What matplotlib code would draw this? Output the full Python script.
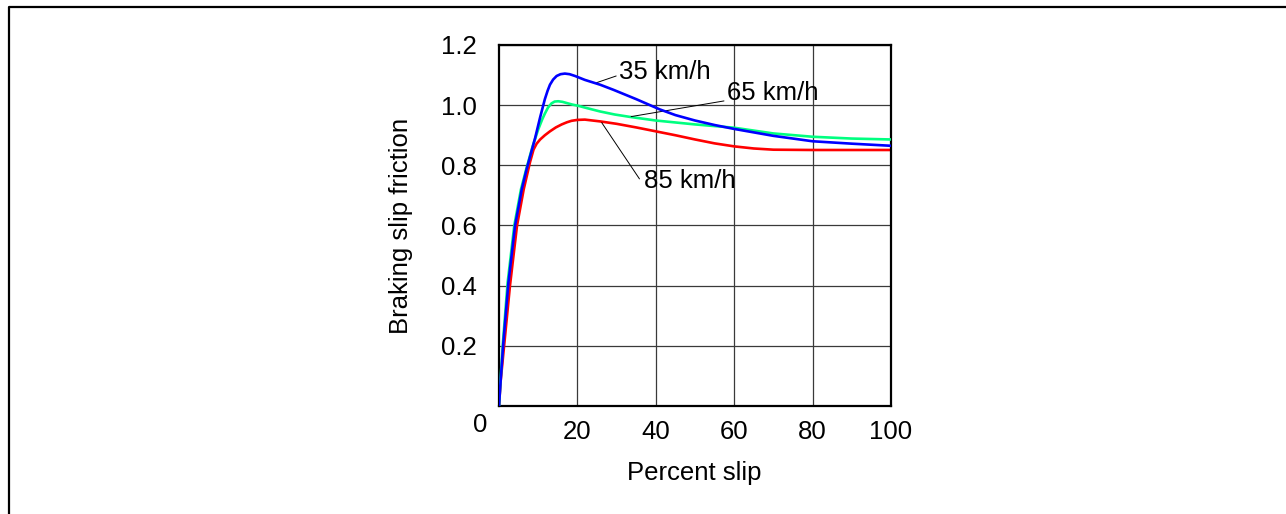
import matplotlib
matplotlib.use('Agg')
import matplotlib.pyplot as plt
from matplotlib.lines import Line2D

plt.rcParams['font.family'] = ['Liberation Sans', 'DejaVu Sans']

### data ###
# 35 km/h
slip_35 = [0, 0.4, 1.1, 2.4, 4.1, 5.8, 7.1, 9.2, 10.5, 11.7, 12.4, 13.0, 13.8, 14.7, 15.7, 16.8, 18.0,
           19.4, 21.9, 25.8, 29.2, 35, 41, 45, 50, 55, 60, 70, 80, 90, 100]
mu_35 = [0, 0.08, 0.21, 0.41, 0.60, 0.72, 0.79, 0.89, 0.96, 1.02, 1.048, 1.068, 1.085, 1.097, 1.103, 1.105, 1.103,
         1.097, 1.084, 1.068, 1.051, 1.02, 0.986, 0.967, 0.949, 0.934, 0.921, 0.898, 0.88, 0.872, 0.865]
# 65 km/h
slip_65 = [0, 0.4, 1.0, 2.2, 3.9, 5.6, 7.0, 8.5, 10.0, 11.0, 11.7, 12.5, 13.4, 14.2, 15.1, 16.2, 17.3,
           18.7, 20.2, 21.9, 25.8, 29.5, 33.4, 40, 50, 60, 70, 80, 90, 100]
mu_65 = [0, 0.09, 0.21, 0.41, 0.60, 0.72, 0.79, 0.86, 0.919, 0.952, 0.972, 0.992, 1.006, 1.012, 1.013, 1.011, 1.007,
         1.002, 0.998, 0.992, 0.979, 0.969, 0.961, 0.949, 0.936, 0.925, 0.906, 0.895, 0.889, 0.886]
# 85 km/h
slip_85 = [0, 0.4, 1.3, 2.8, 4.6, 6.3, 7.9, 8.8, 9.6, 10.5, 11.7, 13.0, 14.5, 16.0, 17.3, 18.5, 20.0,
           21.9, 25.8, 30, 35, 40, 45, 50, 55, 60, 65, 70, 80, 90, 100]
mu_85 = [0, 0.08, 0.20, 0.40, 0.60, 0.72, 0.81, 0.852, 0.872, 0.886, 0.900, 0.913, 0.926, 0.936, 0.943, 0.948, 0.951,
         0.952, 0.946, 0.938, 0.926, 0.913, 0.90, 0.886, 0.873, 0.863, 0.856, 0.852, 0.851, 0.851, 0.851]

xticks = [20, 40, 60, 80, 100]
yticks = [0.2, 0.4, 0.6, 0.8, 1.0, 1.2]

W, H = 1286, 514
fig = plt.figure(figsize=(W / 100, H / 100), dpi=100)
ax = fig.add_axes([499 / W, (H - 406) / H, 392 / W, 361 / H])

ax.plot(slip_35, mu_35, color='#0000ff', lw=1.9, zorder=4, solid_joinstyle='round')
ax.plot(slip_65, mu_65, color='#00ff80', lw=1.9, zorder=3, solid_joinstyle='round')
ax.plot(slip_85, mu_85, color='#ff0000', lw=1.9, zorder=2, solid_joinstyle='round')

ax.set_xlim(0, 100)
ax.set_ylim(0, 1.2)
ax.set_xticks(xticks)
ax.set_yticks(yticks)
ax.set_xticklabels([str(t) for t in xticks])
ax.set_yticklabels(['%.1f' % t for t in yticks])
ax.tick_params(axis='both', length=0, labelsize=18.5)
ax.tick_params(axis='y', pad=16)
ax.tick_params(axis='x', pad=10)
ax.grid(True, color='#3a3a3a', lw=0.9)
ax.set_axisbelow(True)
for s in ax.spines.values():
    s.set_linewidth(1.6)
    s.set_color('black')

# lone zero in the corner
ax.text(-0.049, -0.054, '0', transform=ax.transAxes, fontsize=18.5, ha='center', va='center')

ax.set_xlabel('Percent slip', fontsize=18.5)
ax.xaxis.set_label_coords(0.497, -0.153)
ax.set_ylabel('Braking slip friction', fontsize=18.5)
ax.yaxis.set_label_coords(-0.22, 0.5)

# curve labels with leader lines
lead = dict(arrowstyle='-', color='black', lw=0.7, shrinkA=0, shrinkB=0)
ax.annotate('35 km/h', xy=(24.5, 1.073), xytext=(30.6, 1.109), fontsize=18.5,
            ha='left', va='center', arrowprops=dict(lead, relpos=(-0.03, 0.35)))
ax.annotate('65 km/h', xy=(33.7, 0.962), xytext=(58.1, 1.042), fontsize=18.5,
            ha='left', va='center', arrowprops=dict(lead, relpos=(-0.03, 0.15)))
ax.annotate('85 km/h', xy=(26.2, 0.942), xytext=(37.0, 0.747), fontsize=18.5,
            ha='left', va='center', arrowprops=dict(lead, relpos=(-0.05, 0.6)))

# page frame: top and left edges
fig.add_artist(Line2D([9 / W, 9 / W, 1.0], [0.0, 1 - 7.3 / H, 1 - 7.3 / H],
                      transform=fig.transFigure, color='black', lw=1.6))

fig.savefig('out.png', dpi=100)
